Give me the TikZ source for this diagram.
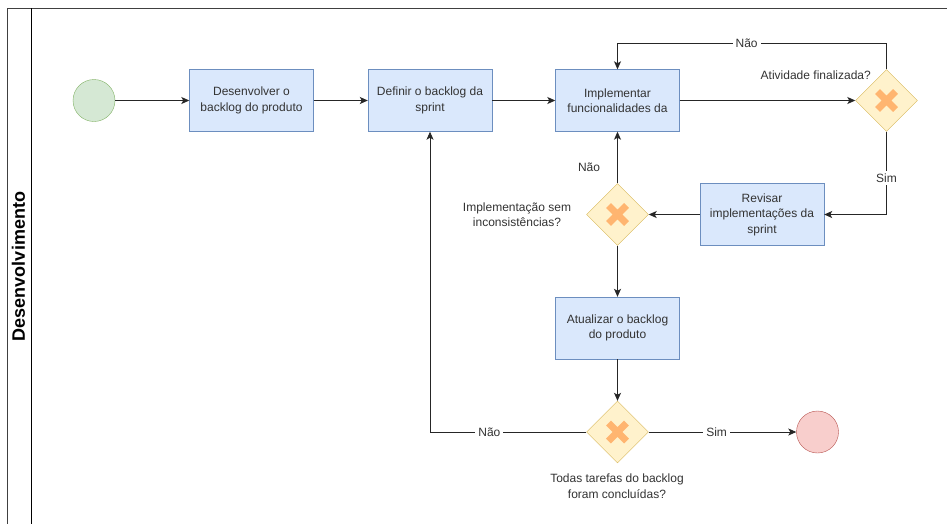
\documentclass[tikz,border=0pt]{standalone}
\usepackage{fontspec}
\setmainfont{Liberation Sans}
\usetikzlibrary{arrows.meta,shapes.geometric}
\definecolor{taskfill}{HTML}{DAE8FC}
\definecolor{taskline}{HTML}{6C8EBF}
\definecolor{gatefill}{HTML}{FFF2CC}
\definecolor{gateline}{HTML}{D6B656}
\definecolor{gatemark}{HTML}{FFB570}
\definecolor{startfill}{HTML}{D5E8D4}
\definecolor{startline}{HTML}{82B366}
\definecolor{endfill}{HTML}{F8CECC}
\definecolor{endline}{HTML}{B85450}
\definecolor{txt}{HTML}{333333}
\tikzset{
  x=1pt, y=-1pt,
  every node/.style={font=\fontsize{12}{15.5}\selectfont, text=txt},
  task/.style={draw=taskline, fill=taskfill, minimum width=124pt, minimum height=62pt,
    align=center, inner sep=2pt},
  gate/.style={draw=gateline, fill=gatefill, diamond, minimum size=62pt, inner sep=0pt,
    path picture={
      \draw[gatemark, line width=7pt]
        ([shift={(-9pt,-9pt)}]path picture bounding box.center) -- ([shift={(9pt,9pt)}]path picture bounding box.center)
        ([shift={(-9pt,9pt)}]path picture bounding box.center) -- ([shift={(9pt,-9pt)}]path picture bounding box.center);
    }},
  startev/.style={circle, draw=startline, fill=startfill, minimum size=42pt, inner sep=0pt},
  endev/.style={circle, draw=endline, fill=endfill, minimum size=42pt, inner sep=0pt},
  flow/.style={draw=black!85, line width=0.9pt, -{Stealth[length=8pt,width=7pt,inset=2pt]}},
  lbl/.style={fill=white, inner sep=3pt},
  note/.style={align=center, inner sep=0pt},
}
\begin{document}
\begin{tikzpicture}
\useasboundingbox (0,0) rectangle (947,523);
\clip (0,0) rectangle (947,523);
\fill[white] (0,0) rectangle (947,523);

% pool frame and lane header
\draw[black!75, line width=1pt] (7.5,8) rectangle (990,560);
\draw[black, line width=1pt] (31.5,8) -- (31.5,560);
\node[rotate=90, font=\bfseries\fontsize{18}{20}\selectfont, text=black] (lane) at (18.5,266.5) {Desenvolvimento};

% events, tasks and gateways
\node[startev] (start) at (94,100.5) {};
\node[task] (b1) at (251.5,100.5) {Desenvolver o\\backlog do produto};
\node[task] (b2) at (430,100.5) {Definir o backlog da\\sprint};
\node[task] (b3) at (617.5,100.5) {Implementar\\funcionalidades da};
\node[gate] (g1) at (886.5,100.5) {};
\node[task] (b4) at (762,214.5) {Revisar\\implementações da\\sprint};
\node[gate] (g2) at (617.5,214.5) {};
\node[task] (b5) at (617.5,328) {Atualizar o backlog\\do produto};
\node[gate] (g3) at (617.5,432) {};
\node[endev] (stop) at (817.5,432) {};

% gateway questions
\node[note, anchor=south east] (q1) at (871,80) {Atividade finalizada?};
\node[note] (q2) at (517,214.5) {Implementação sem\\inconsistências?};
\node[note] (q3) at (617,486) {Todas tarefas do backlog\\foram concluídas?};

% sequence flows
\coordinate (loopR) at (886.5,43);
\coordinate (loopL) at (617.5,43);
\draw[flow] (start) -- (b1);
\draw[flow] (b1) -- (b2);
\draw[flow] (b2) -- (b3);
\draw[flow] (b3) -- (g1);
\draw[flow] (g1.north) -- (loopR) -- node[lbl, pos=0.52] (l1) {Não} (loopL) -- (b3.north);
\draw[flow] (g1.south) |- node[lbl, pos=0.28] (l2) {Sim} (b4.east);
\draw[flow] (b4.west) -- (g2.east);
\draw[flow] (g2.north) -- (b3.south);
\node (l3) at (589,167) {Não};
\draw[flow] (g2.south) -- (b5.north);
\draw[flow] (b5.south) -- (g3.north);
\draw[flow] (g3.west) -| node[lbl, pos=0.31] (l4) {Não} (b2.south);
\draw[flow] (g3.east) -- node[lbl, pos=0.46] (l5) {Sim} (stop.west);
\end{tikzpicture}
\end{document}
